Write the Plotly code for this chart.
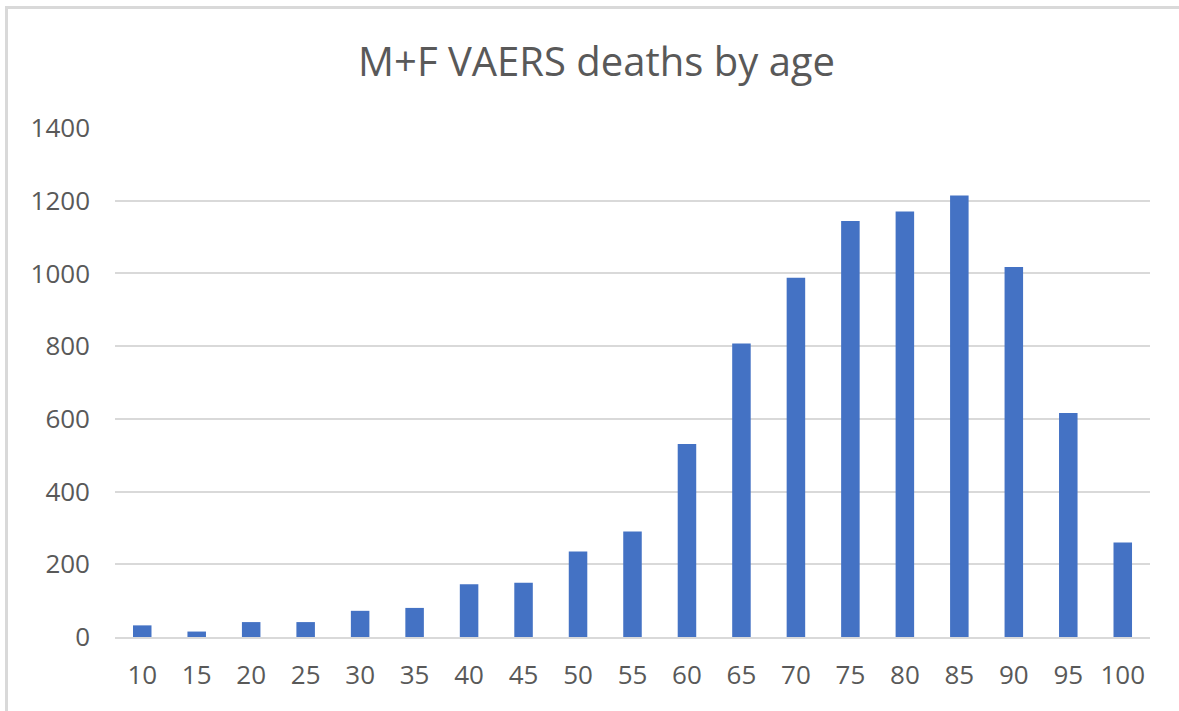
import plotly.graph_objects as go

ages = ["10", "15", "20", "25", "30", "35", "40", "45", "50", "55",
        "60", "65", "70", "75", "80", "85", "90", "95", "100"]
deaths = [32, 15, 41, 41, 72, 80, 145, 149, 235, 290,
          531, 807, 988, 1144, 1170, 1214, 1018, 616, 260]
y_ticks = [0, 200, 400, 600, 800, 1000, 1200, 1400]

W, H = 1179, 711
ML, MR, MT, MB = 115, 29, 128, 74
PW, PH = W - ML - MR, H - MT - MB

def px_x(px):
    return (px - ML) / PW

def px_y(py):
    return (H - MB - py) / PH

FONT = "Open Sans, Liberation Sans, sans-serif"
GREY_TXT = "#595959"
GRID = "#d9d9d9"

fig = go.Figure(go.Bar(
    x=ages, y=deaths,
    marker=dict(color="#4472C4", line=dict(width=0)),
))

fig.update_layout(
    width=W, height=H,
    margin=dict(l=ML, r=MR, t=MT, b=MB),
    paper_bgcolor="white", plot_bgcolor="white",
    bargap=0.66,
    showlegend=False,
    title=dict(text="M+F VAERS deaths by age", x=0.506, xref="container", xanchor="center",
               y=1 - 62 / H, yref="container", yanchor="middle",
               font=dict(family=FONT, size=40, color=GREY_TXT)),
    font=dict(family=FONT, color=GREY_TXT),
    xaxis=dict(type="category", showgrid=False, showline=True, linecolor=GRID, linewidth=2,
               ticks="", tickfont=dict(size=26, color=GREY_TXT), ticklabelstandoff=14,
               zeroline=False),
    yaxis=dict(range=[0, 1400], tickvals=y_ticks, showgrid=True, gridcolor=GRID, gridwidth=2,
               zeroline=False, showline=False, ticks="",
               tickfont=dict(size=26, color=GREY_TXT), ticklabelstandoff=24),
    shapes=[
        dict(type="line", xref="paper", yref="paper", x0=px_x(5), x1=px_x(W + 5),
             y0=px_y(7.5), y1=px_y(7.5), line=dict(color=GRID, width=3), layer="below"),
        dict(type="line", xref="paper", yref="paper", x0=px_x(6.5), x1=px_x(6.5),
             y0=px_y(6), y1=px_y(H + 5), line=dict(color=GRID, width=3), layer="below"),
    ],
)

fig.write_html("out.html", config={"displayModeBar": False},
               post_script="document.body.style.margin='0';document.body.style.overflow='hidden';")
